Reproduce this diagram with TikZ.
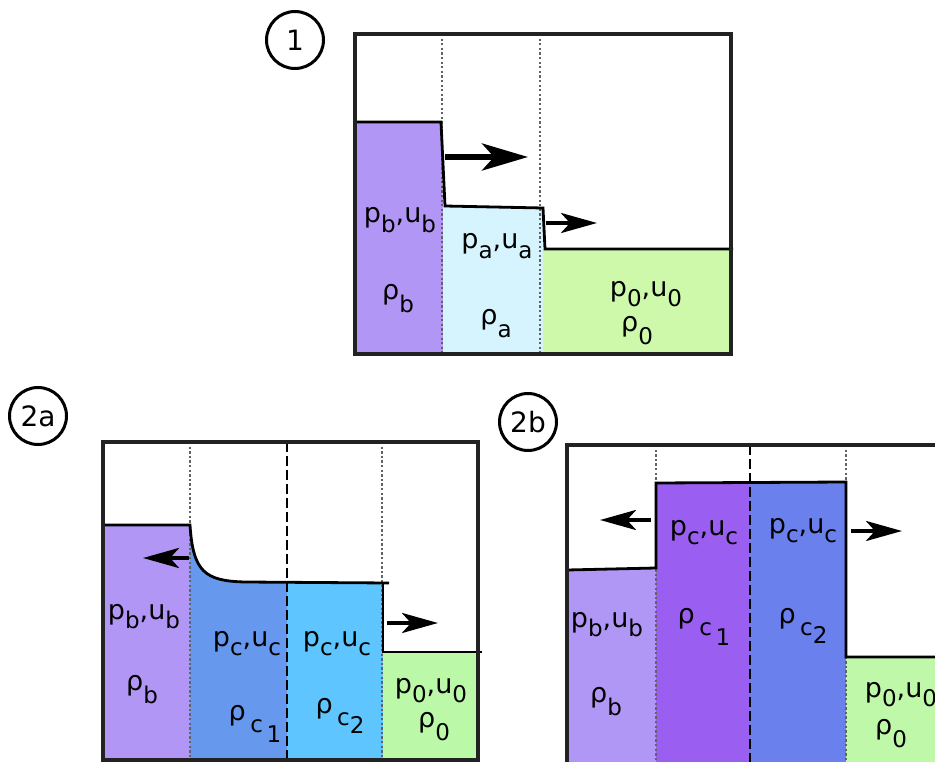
\documentclass[tikz,border=0pt]{standalone}
\usepackage{fontspec}
\setmainfont{DejaVu Sans}
\usetikzlibrary{arrows.meta}
\definecolor{purA}{HTML}{B196F5}
\definecolor{lblA}{HTML}{D5F4FD}
\definecolor{grnA}{HTML}{CEF9AA}
\definecolor{midB}{HTML}{6699EE}
\definecolor{lblB}{HTML}{5EC5FF}
\definecolor{grnB}{HTML}{BBF9A9}
\definecolor{purC}{HTML}{B197F5}
\definecolor{vioC}{HTML}{9A5EF1}
\definecolor{bluC}{HTML}{6A80EC}
\definecolor{grnC}{HTML}{C0F8AA}
\definecolor{frame}{HTML}{222222}
\definecolor{dotgray}{HTML}{626262}
\newcommand{\lo}[1]{\raisebox{-0.34em}{\fontsize{23}{23}\selectfont #1}}
\newcommand{\rlo}[1]{\raisebox{-0.5em}{\fontsize{23}{23}\selectfont #1}}
\newcommand{\rloo}[2]{\raisebox{-0.48em}{\fontsize{23}{23}\selectfont #1\,\raisebox{-0.4em}{#2}}}
\newcommand{\rlc}[2]{\raisebox{-0.48em}{\fontsize{23}{23}\selectfont #1\raisebox{-0.34em}{#2}}}
\tikzset{
  lbl/.style={font=\fontsize{27}{30}\selectfont, inner sep=0pt, anchor=base},
  circ/.style={draw, circle, line width=3pt, minimum size=57pt, inner sep=0pt, font=\fontsize{28}{30}\selectfont},
  boxline/.style={line width=4pt, draw=frame},
  stepline/.style={line width=2.8pt, black},
  dotline/.style={line width=2.4pt, draw=dotgray, dash pattern=on 2.3pt off 2.3pt},
  dashline/.style={line width=2.6pt, black, dash pattern=on 10pt off 4pt},
  bigarr/.style={line width=5.5pt, -{Stealth[length=46pt, width=27pt, inset=12pt]}},
  arr/.style={line width=4pt, -{Stealth[length=36pt, width=20pt, inset=9pt]}}
}
\begin{document}
\begin{tikzpicture}[x=1pt,y=-1pt]
\useasboundingbox (0,0) rectangle (935,762);
\clip (0,0) rectangle (935,762);
\fill[white] (0,0) rectangle (935,762);

% ---------- Panel 1 ----------
\fill[purA] (355,122) -- (441,122) -- (443,206) -- (443,354) -- (355,354) -- cycle;
\fill[lblA] (443,207) -- (543,208) -- (543,354) -- (443,354) -- cycle;
\fill[grnA] (543,249) -- (731,249) -- (731,354) -- (543,354) -- cycle;
\draw[dotline] (442,34) -- (442,354);
\draw[dotline] (540,34) -- (540,354);
\draw[stepline] (355,122) -- (441,122) -- (445,206) -- (543,208) -- (545,249) -- (733,249);
\draw[boxline] (355,34) rectangle (731,354);
\coordinate (p1a) at (445,157);
\coordinate (p1b) at (528,157);
\coordinate (p1c) at (546,223);
\coordinate (p1d) at (597,223);
\draw[bigarr] (p1a) -- (p1b);
\draw[arr] (p1c) -- (p1d);
\node[circ] (c1) at (295,40) {1};
\node[lbl] (t1pb) at (400,223) {p\lo{b},u\lo{b}};
\node[lbl] (t1rb) at (398,299) {ρ\rlo{b}};
\node[lbl] (t1pa) at (497,249) {p\lo{a},u\lo{a}};
\node[lbl] (t1ra) at (496,324) {ρ\rlo{a}};
\node[lbl] (t1p0) at (646,297) {p\lo{0},u\lo{0}};
\node[lbl] (t1r0) at (637,331) {ρ\rlo{0}};

% ---------- Panel 2a ----------
\fill[purA] (103,525) -- (190,525) -- (190,760) -- (103,760) -- cycle;
\fill[midB] (190,525) .. controls (193,572) and (205,581) .. (245,582) -- (287,582) -- (287,760) -- (190,760) -- cycle;
\fill[lblB] (287,582) -- (383,583) -- (383,760) -- (287,760) -- cycle;
\fill[grnB] (383,652) -- (476,652) -- (476,760) -- (383,760) -- cycle;
\draw[dotline] (190,442) -- (190,760);
\draw[dotline] (382,442) -- (382,760);
\draw[dashline] (287,442) -- (287,760);
\draw[stepline] (104,525) -- (190,525) .. controls (193,572) and (205,581) .. (245,582) -- (389,583);
\draw[stepline] (383,583) -- (383,652) -- (482,652);
\draw[boxline] (103,442) rectangle (478,760);
\coordinate (q1a) at (189,558);
\coordinate (q1b) at (143,558);
\coordinate (q1c) at (387,623);
\coordinate (q1d) at (438,623);
\draw[arr] (q1a) -- (q1b);
\draw[arr] (q1c) -- (q1d);
\node[circ] (c2a) at (38,416) {2a};
\node[lbl] (t2pb) at (144,619) {p\lo{b},u\lo{b}};
\node[lbl] (t2rb) at (142,690) {ρ\rlo{b}};
\node[lbl] (t2pc1) at (247,646) {p\lo{c},u\lo{c}};
\node[lbl] (t2rc1) at (255,720) {ρ\,\rloo{c}{1}};
\node[lbl] (t2pc2) at (337,646) {p\lo{c},u\lo{c}};
\node[lbl] (t2rc2) at (340,713) {ρ\,\rlc{c}{2}};
\node[lbl] (t2p0) at (431,693) {p\lo{0},u\lo{0}};
\node[lbl] (t2r0) at (434,727) {ρ\rlo{0}};

% ---------- Panel 2b ----------
\fill[purC] (567,570) -- (656,568) -- (656,770) -- (567,770) -- cycle;
\fill[vioC] (656,483) -- (750,482.5) -- (750,770) -- (656,770) -- cycle;
\fill[bluC] (750,482.5) -- (846,482) -- (846,770) -- (750,770) -- cycle;
\fill[grnC] (846,657) -- (940,657) -- (940,770) -- (846,770) -- cycle;
\draw[dotline] (656,445) -- (656,770);
\draw[dotline] (846,445) -- (846,770);
\draw[dashline] (750,445) -- (750,770);
\draw[stepline] (567,570) -- (656,568) -- (656,483) -- (846,482) -- (846,657) -- (940,657);
\draw[boxline] (567,775) -- (567,445) -- (945,445);
\coordinate (r1a) at (651,520);
\coordinate (r1b) at (600,520);
\coordinate (r1c) at (851,531);
\coordinate (r1d) at (902,531);
\draw[arr] (r1a) -- (r1b);
\draw[arr] (r1c) -- (r1d);
\node[circ] (c2b) at (528,422) {2b};
\node[lbl] (t3pc1) at (704,535) {p\lo{c},u\lo{c}};
\node[lbl] (t3pc2) at (803,533) {p\lo{c},u\lo{c}};
\node[lbl] (t3rc1) at (704,623) {ρ\,\rloo{c}{1}};
\node[lbl] (t3rc2) at (803,623) {ρ\,\rlc{c}{2}};
\node[lbl] (t3pb) at (607,627) {p\lo{b},u\lo{b}};
\node[lbl] (t3rb) at (606,702) {ρ\rlo{b}};
\node[lbl] (t3p0) at (901,697) {p\lo{0},u\lo{0}};
\node[lbl] (t3r0) at (891,734) {ρ\rlo{0}};
\end{tikzpicture}
\end{document}
